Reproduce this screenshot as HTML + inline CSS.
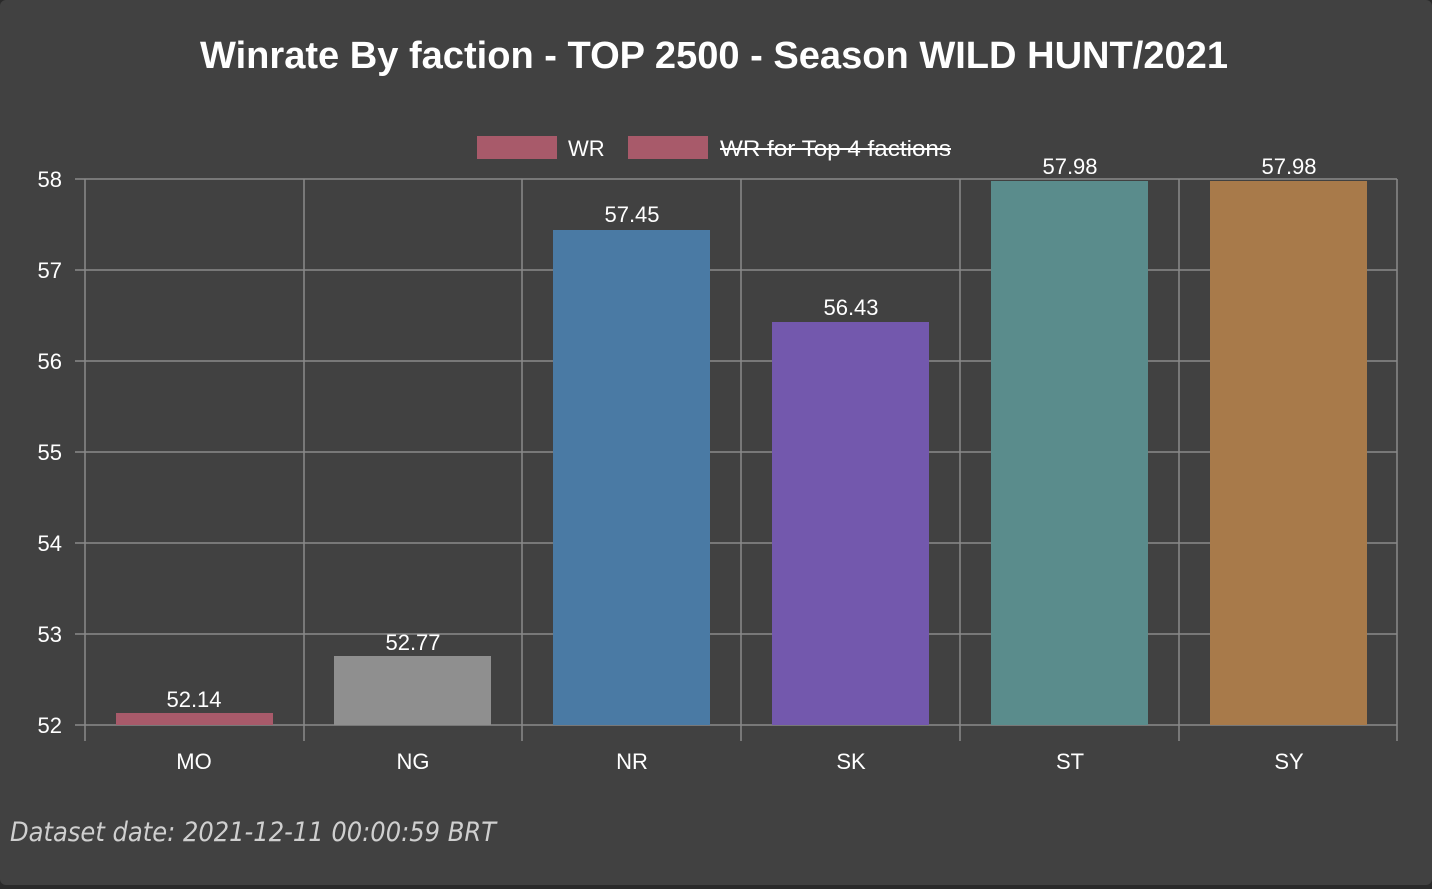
<!DOCTYPE html>
<html><head><meta charset="utf-8"><style>
html,body{margin:0;padding:0;background:#2a2a2a;}
body{width:1432px;height:889px;overflow:hidden;}
svg{display:block;}
text{font-family:"Liberation Sans",sans-serif;fill:#fff;}
</style></head><body>
<svg width="1432" height="889" viewBox="0 0 1432 889">
<rect x="0" y="0" width="1432" height="885" rx="6" fill="#414141"/>
<text x="714" y="68" text-anchor="middle" font-size="38" font-weight="600" textLength="1028" lengthAdjust="spacingAndGlyphs">Winrate By faction - TOP 2500 - Season WILD HUNT/2021</text>
<!-- legend -->
<rect x="477" y="136" width="80" height="23" fill="#a85a6a"/>
<text x="568" y="156" font-size="22">WR</text>
<rect x="628" y="136" width="80" height="23" fill="#a85a6a"/>
<text x="720" y="156" font-size="22" textLength="231" lengthAdjust="spacingAndGlyphs">WR for Top 4 factions</text>
<line x1="720" y1="149" x2="951" y2="149" stroke="#fff" stroke-width="2"/>
<!-- grid -->
<g stroke="#8a8a8a" stroke-width="1.5">
<line x1="75" y1="179" x2="1397" y2="179"/>
<line x1="75" y1="270" x2="1397" y2="270"/>
<line x1="75" y1="361" x2="1397" y2="361"/>
<line x1="75" y1="452" x2="1397" y2="452"/>
<line x1="75" y1="543" x2="1397" y2="543"/>
<line x1="75" y1="634" x2="1397" y2="634"/>
<line x1="75" y1="725" x2="1397" y2="725"/>
<line x1="85" y1="179" x2="85" y2="741"/>
<line x1="304" y1="179" x2="304" y2="741"/>
<line x1="522" y1="179" x2="522" y2="741"/>
<line x1="741" y1="179" x2="741" y2="741"/>
<line x1="960" y1="179" x2="960" y2="741"/>
<line x1="1179" y1="179" x2="1179" y2="741"/>
<line x1="1397" y1="179" x2="1397" y2="741"/>
</g>
<g font-size="22" text-anchor="end">
<text x="62" y="187">58</text><text x="62" y="278">57</text><text x="62" y="369">56</text>
<text x="62" y="460">55</text><text x="62" y="551">54</text><text x="62" y="642">53</text><text x="62" y="733">52</text>
</g>
<!-- bars -->
<rect x="116" y="713" width="157" height="12" fill="#a85a6a"/>
<rect x="334" y="656" width="157" height="69" fill="#8f8f8f"/>
<rect x="553" y="230" width="157" height="495" fill="#4a7aa4"/>
<rect x="772" y="322" width="157" height="403" fill="#7358ad"/>
<rect x="991" y="181" width="157" height="544" fill="#5a8c8c"/>
<rect x="1210" y="181" width="157" height="544" fill="#a87a4a"/>
<g font-size="22" text-anchor="middle">
<text x="194" y="707">52.14</text>
<text x="413" y="650">52.77</text>
<text x="632" y="222">57.45</text>
<text x="851" y="315">56.43</text>
<text x="1070" y="174">57.98</text>
<text x="1289" y="174">57.98</text>
<text x="194" y="769">MO</text>
<text x="413" y="769">NG</text>
<text x="632" y="769">NR</text>
<text x="851" y="769">SK</text>
<text x="1070" y="769">ST</text>
<text x="1289" y="769">SY</text>
</g>
<text x="10" y="841" font-size="27" font-style="italic" style="fill:#cfcfcf;font-family:'DejaVu Sans','Liberation Sans',sans-serif" textLength="486" lengthAdjust="spacingAndGlyphs">Dataset date: 2021-12-11 00:00:59 BRT</text>
</svg>
</body></html>
